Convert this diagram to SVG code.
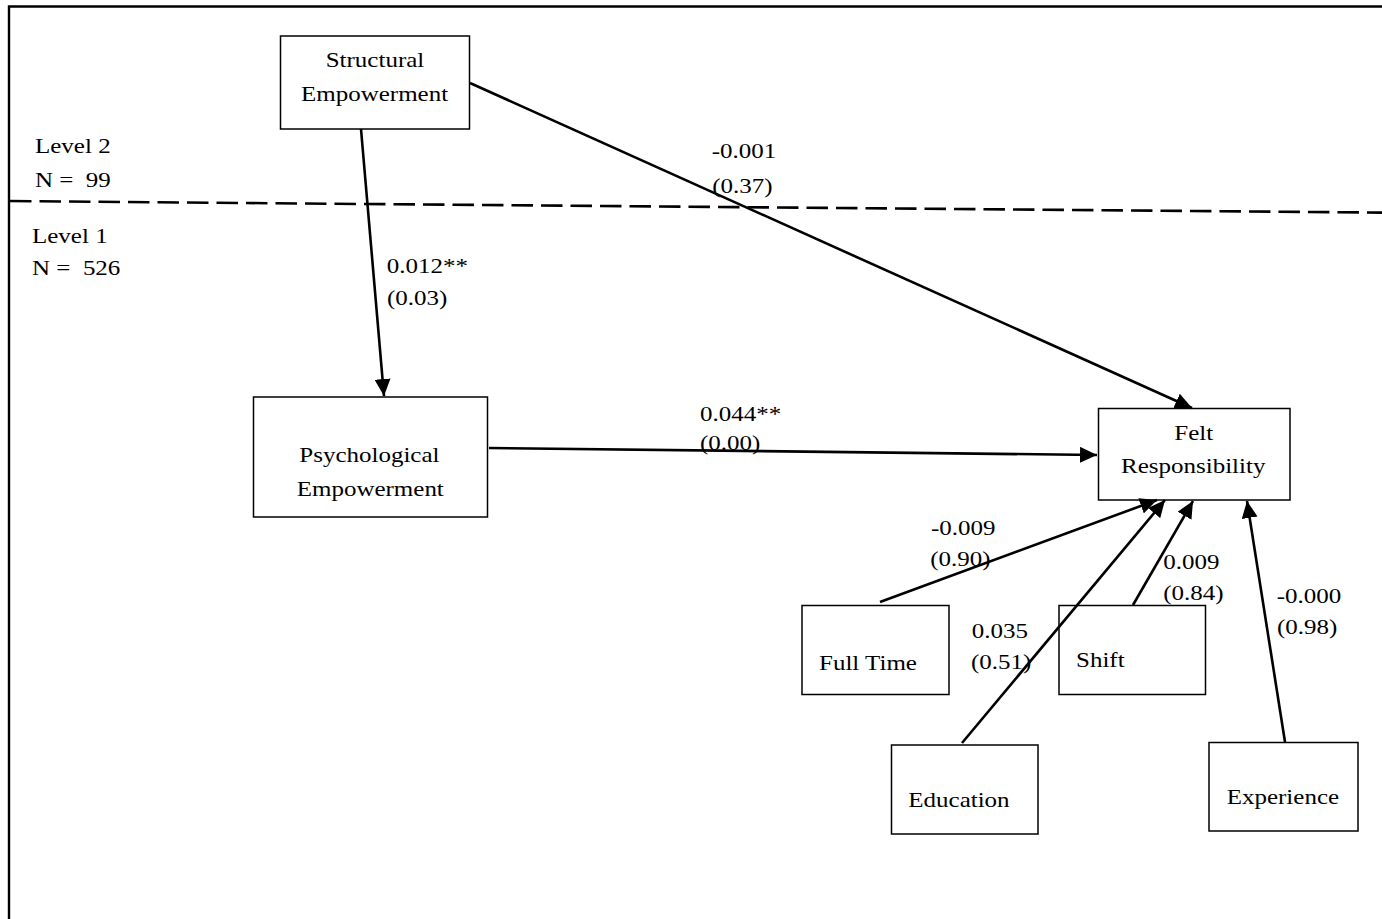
<svg xmlns="http://www.w3.org/2000/svg" width="1382" height="919" viewBox="0 0 1382 919">
<defs>
<style>
text{font-family:"Liberation Serif","Times New Roman",serif;font-size:25px;fill:#000;white-space:pre;transform-box:fill-box;transform-origin:center;transform:scaleY(0.84)}
.box{fill:none;stroke:#000;stroke-width:1.5}
.edge{stroke:#000;stroke-width:2.6;fill:none;marker-end:url(#ah)}
</style>
<marker id="ah" markerUnits="userSpaceOnUse" markerWidth="18" markerHeight="16" refX="17" refY="8" orient="auto">
<path d="M0,0 L17,8 L0,16 z" fill="#000"/>
</marker>
</defs>
<rect width="1382" height="919" fill="#fff"/>
<g id="frame" stroke="#000" stroke-width="2.4" fill="none">
<path d="M9,919 L9,6.5 L1382,6.5"/>
</g>
<g id="level-divider">
<line x1="10" y1="201" x2="1382" y2="212.6" stroke="#000" stroke-width="2.6" stroke-dasharray="21.5 8"/>
<text x="35" y="154.5" xml:space="preserve">Level 2</text>
<text x="35" y="188" xml:space="preserve">N =  99</text>
<text x="32" y="244.5" xml:space="preserve">Level 1</text>
<text x="32" y="276.5" xml:space="preserve">N =  526</text>
</g>
<g id="structural-empowerment">
<rect class="box" x="280.5" y="36" width="189" height="93"/>
<text x="325.7" y="68.3">Structural</text>
<text x="301" y="102.3">Empowerment</text>
</g>
<g id="psychological-empowerment">
<rect class="box" x="253.5" y="397" width="234" height="120"/>
<text x="299.3" y="463.3">Psychological</text>
<text x="296.7" y="497.3">Empowerment</text>
</g>
<g id="felt-responsibility">
<rect class="box" x="1098.5" y="408.5" width="191.5" height="91.5"/>
<text x="1174.3" y="441.3">Felt</text>
<text x="1121" y="474.6">Responsibility</text>
</g>
<g id="full-time">
<rect class="box" x="802" y="605.5" width="147" height="89"/>
<text x="819" y="671.3">Full Time</text>
</g>
<g id="shift">
<rect class="box" x="1059" y="605.5" width="146.5" height="89"/>
<text x="1076" y="668.6">Shift</text>
</g>
<g id="education">
<rect class="box" x="891.5" y="745" width="146.5" height="89"/>
<text x="908.3" y="808">Education</text>
</g>
<g id="experience">
<rect class="box" x="1209" y="742.5" width="149" height="88.5"/>
<text x="1226.7" y="805.3">Experience</text>
</g>
<g id="connectors">
<line class="edge" x1="361" y1="129" x2="384" y2="396"/>
<line class="edge" x1="470" y1="83" x2="1192" y2="408"/>
<line class="edge" x1="489" y1="448" x2="1097" y2="455"/>
<line class="edge" x1="880" y1="602" x2="1157" y2="500"/>
<line class="edge" x1="962" y1="743" x2="1165" y2="500"/>
<line class="edge" x1="1133" y1="605" x2="1193" y2="501"/>
<line class="edge" x1="1285" y1="742" x2="1247" y2="501"/>
<text x="711.7" y="159.8">-0.001</text>
<text x="712.3" y="194">(0.37)</text>
<text x="386.7" y="274">0.012**</text>
<text x="387" y="306.3">(0.03)</text>
<text x="700" y="422.3">0.044**</text>
<text x="700" y="451.3">(0.00)</text>
<text x="931" y="536.3">-0.009</text>
<text x="930.3" y="567.3">(0.90)</text>
<text x="971.7" y="639.6">0.035</text>
<text x="971" y="670.3">(0.51)</text>
<text x="1163.3" y="570.6">0.009</text>
<text x="1163.3" y="601.3">(0.84)</text>
<text x="1276.7" y="604">-0.000</text>
<text x="1277" y="635.3">(0.98)</text>
</g>
</svg>
